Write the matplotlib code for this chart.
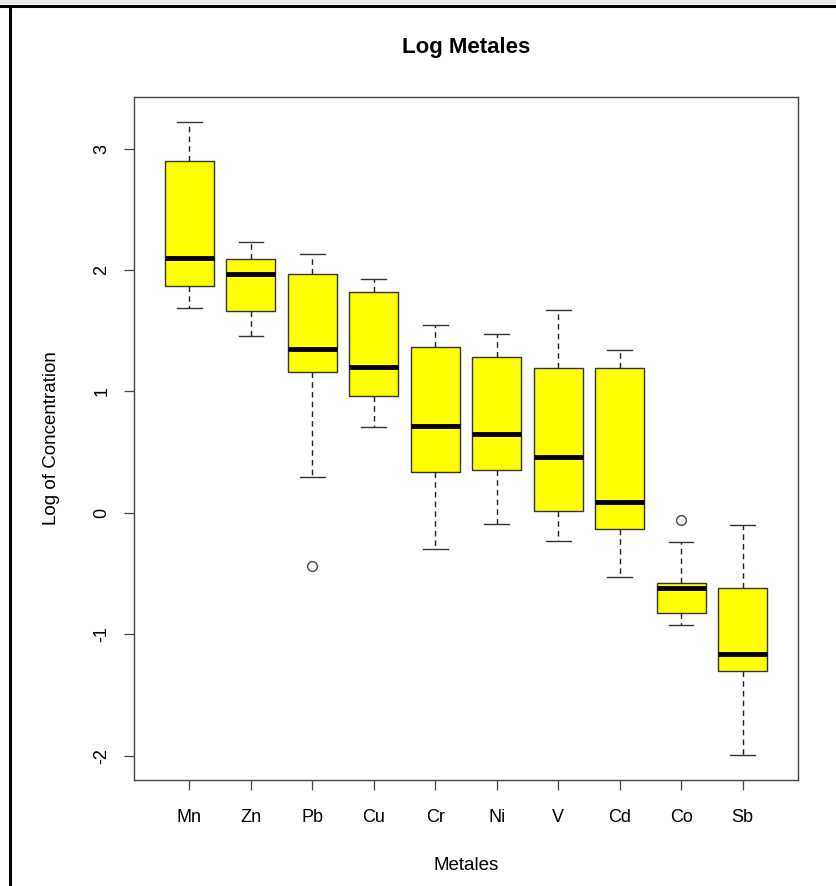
import matplotlib
matplotlib.use("Agg")
import matplotlib.pyplot as plt
from matplotlib.lines import Line2D
from matplotlib.patches import Rectangle

plt.rcParams['font.family'] = ['Liberation Sans', 'DejaVu Sans']

metals = ["Mn", "Zn", "Pb", "Cu", "Cr", "Ni", "V", "Cd", "Co", "Sb"]
whislo = [1.69, 1.46, 0.30, 0.71, -0.30, -0.09, -0.23, -0.53, -0.92, -1.99]
q1     = [1.87, 1.66, 1.16, 0.96, 0.34, 0.35, 0.02, -0.13, -0.82, -1.30]
med    = [2.10, 1.97, 1.35, 1.20, 0.72, 0.65, 0.46, 0.09, -0.62, -1.16]
q3     = [2.90, 2.09, 1.97, 1.82, 1.37, 1.28, 1.19, 1.19, -0.58, -0.62]
whishi = [3.22, 2.23, 2.13, 1.93, 1.55, 1.47, 1.67, 1.34, -0.24, -0.10]
fliers = [[], [], [-0.44], [], [], [], [], [], [-0.06], []]
yticks = [-2, -1, 0, 1, 2, 3]

W, H = 836, 886
fig = plt.figure(figsize=(W / 100, H / 100), dpi=100)
ax = fig.add_axes([134 / W, 1 - 780 / H, 664 / W, 683 / H])

stats = []
for i, m in enumerate(metals):
    stats.append(dict(label=m, whislo=whislo[i], q1=q1[i], med=med[i],
                      q3=q3[i], whishi=whishi[i], fliers=fliers[i]))

ax.bxp(stats, positions=range(1, len(metals) + 1), widths=0.8,
       patch_artist=True, showfliers=True,
       boxprops=dict(facecolor='#ffff00', edgecolor='#333333', linewidth=1.0),
       medianprops=dict(color='black', linewidth=3.5, solid_capstyle='butt'),
       whiskerprops=dict(color='#222222', linewidth=1.0, linestyle=(0, (4, 3))),
       capprops=dict(color='#333333', linewidth=1.0),
       capwidths=0.4,
       flierprops=dict(marker='o', markerfacecolor='none', markeredgecolor='#444444',
                       markersize=7, markeredgewidth=1.0))

ax.set_xlim(0.1, 10.9)
ax.set_ylim(-2.198, 3.424)
ax.set_yticks(yticks)
ax.set_yticklabels([str(t) for t in yticks], rotation=90, va='center')
ax.set_xticks(range(1, len(metals) + 1))
ax.set_xticklabels(metals)
ax.tick_params(axis='both', direction='out', length=7, width=0.9, color='#444444',
               labelsize=13)
ax.tick_params(axis='x', pad=14)
ax.tick_params(axis='y', pad=10)
for s in ax.spines.values():
    s.set_color('#444444')
    s.set_linewidth(1.0)

ax.set_xlabel("Metales", fontsize=13.5, labelpad=22)
ax.set_ylabel("Log of Concentration", fontsize=13.5, labelpad=24)
fig.text(466 / W, 1 - 48 / H, "Log Metales", ha='center', va='center',
         fontsize=16, fontweight='bold')

# outer frame (top and left edges) as in screenshot
fig.patches.append(Rectangle((0, 1 - 4 / H), 1, 4 / H, transform=fig.transFigure,
                             facecolor='#e6e6e6', edgecolor='none', zorder=0))
fig.lines.append(Line2D([0, 1], [1 - 5.5 / H, 1 - 5.5 / H], transform=fig.transFigure,
                        color='black', linewidth=2.2))
fig.lines.append(Line2D([10 / W, 10 / W], [0, 1 - 5.5 / H], transform=fig.transFigure,
                        color='black', linewidth=2.2))

fig.savefig("out.png", dpi=100)
